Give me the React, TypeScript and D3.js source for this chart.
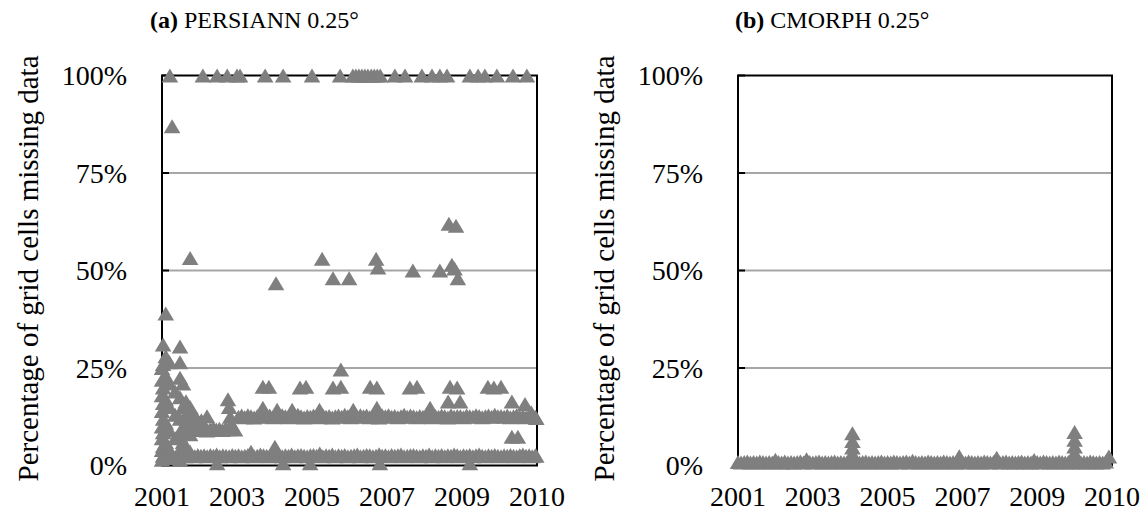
import React from "react";
import * as d3 from "d3";

const WIDTH = 1148;
const HEIGHT = 513;

// Axis definitions
const xTickValues = [2001, 2003, 2005, 2007, 2009, 2011];
const xTickLabels = ["2001", "2003", "2005", "2007", "2009", "2010"];
const yTickValues = [0, 25, 50, 75, 100];
const yTickLabels = ["0%", "25%", "50%", "75%", "100%"];
const yAxisTitle = "Percentage of grid cells missing data";

// ---------- PERSIANN 0.25° ----------
// Monthly typical values of the low band (first month 2001-01)
const persiannLowStart = 2001.04;
const persiannLow = [
  2.6, 2.4, 2.7, 2.5, 2.3, 2.6, 2.8, 2.4, 2.5, 2.6, 2.4, 2.7,
  2.5, 2.6, 2.4, 2.7, 2.5, 2.8, 2.4, 2.6, 2.5, 2.4, 2.7, 2.5,
  2.6, 2.4, 2.5, 2.7, 3.5, 2.4, 2.5, 2.8, 2.6, 2.5, 2.4, 2.6,
  2.5, 2.7, 2.4, 2.6, 2.5, 2.8, 2.4, 2.6, 2.7, 2.5, 2.4, 2.6,
  2.7, 2.5, 3.1, 2.4, 2.6, 2.5, 2.8, 2.4, 2.6, 2.5, 2.7, 2.4,
  2.5, 2.6, 2.8, 2.4, 2.5, 2.7, 2.6, 2.4, 2.5, 2.9, 2.5, 2.6,
  2.4, 2.7, 2.5, 2.6, 2.8, 2.4, 2.5, 2.6, 2.7, 2.5, 2.4, 2.6,
  2.5, 2.8, 2.4, 2.6, 2.5, 2.7, 2.4, 2.6, 2.5, 2.8, 2.6, 2.4,
  2.6, 2.5, 2.7, 2.4, 2.6, 2.8, 2.5, 2.4, 2.6, 2.5, 2.7, 2.5,
  2.4, 2.6, 2.5, 2.7, 2.5, 2.4, 2.6, 2.8, 2.5, 2.6, 2.4, 2.6,
];

// Monthly values of the 2001-2003 band
const persiannMidStart = 2001.78;
const persiannMid = [
  9.4, 9.1, 9.6, 9.2, 9.5, 9.0, 9.3, 9.7, 9.2, 9.4, 9.1, 9.5, 9.3, 9.6, 9.2,
];

// Monthly values of the upper band from 2003 on
const persiannHighStart = 2003.04;
const persiannHigh = [
  12.5, 12.8, 12.4, 12.9, 12.6, 12.3, 12.7, 13.0, 12.5, 12.6, 12.8, 12.4,
  12.7, 12.5, 12.9, 12.6, 12.4, 12.8, 12.5, 13.0, 12.6, 12.3, 12.7, 12.5,
  12.8, 12.6, 12.4, 12.9, 12.5, 12.7, 12.3, 12.6, 12.8, 12.5, 13.0, 12.6,
  12.4, 12.7, 12.5, 12.9, 12.6, 12.8, 12.4, 12.7, 12.5, 12.3, 12.8, 12.6,
  12.9, 12.5, 12.7, 12.4, 12.6, 13.0, 12.5, 12.8, 12.6, 12.4, 12.7, 12.5,
  12.6, 12.9, 12.4, 12.7, 12.5, 12.8, 12.6, 12.3, 12.9, 12.5, 12.7, 12.6,
  12.4, 12.8, 12.6, 12.5, 12.9, 12.7, 12.4, 12.6, 12.8, 12.5, 13.0, 12.6,
  12.7, 12.5, 12.8, 12.4, 12.6, 12.9, 12.5, 12.7, 12.4, 12.8, 12.6, 12.5,
];

// Days with the whole domain missing
const persiannFullDays = [
  2001.21, 2002.09, 2002.47, 2002.74, 2003.0, 2003.08, 2003.75, 2004.23,
  2005.0, 2005.75, 2006.09, 2006.17, 2006.25, 2006.33, 2006.41, 2006.49,
  2006.58, 2006.66, 2006.74, 2006.82, 2007.21, 2007.48, 2007.93, 2008.2,
  2008.41, 2008.6, 2009.21, 2009.43, 2009.61, 2009.93, 2010.36, 2010.73,
];

// Days with almost nothing missing
const persiannNearZeroDays = [2002.47, 2004.23, 2004.95, 2006.81, 2009.21];
const persiannNearZeroValue = 0.6;

// Individual days: [year, percent missing]
const persiannEarly: [number, number][] = [
  [2001.0, 25], [2001.0, 22], [2001.0, 18], [2001.0, 14], [2001.0, 10], [2001.0, 7], [2001.0, 4], [2001.0, 1.5],
  [2001.03, 31], [2001.03, 26], [2001.03, 20], [2001.03, 16], [2001.03, 12], [2001.03, 8.5], [2001.03, 5], [2001.03, 2.5],
  [2001.1, 39], [2001.1, 28], [2001.1, 23], [2001.1, 17], [2001.1, 11], [2001.1, 6], [2001.1, 3],
  [2001.2, 26.5], [2001.2, 21], [2001.2, 15], [2001.2, 9], [2001.2, 4],
  [2001.27, 87],
  [2001.35, 19], [2001.35, 13], [2001.35, 7], [2001.35, 2],
  [2001.48, 30.5], [2001.48, 26.5], [2001.48, 22.5], [2001.48, 17.5], [2001.48, 12], [2001.48, 8], [2001.48, 4], [2001.48, 1.5],
  [2001.56, 21], [2001.56, 15], [2001.56, 10], [2001.56, 6], [2001.56, 2.5],
  [2001.64, 16.5], [2001.64, 13], [2001.64, 9.5], [2001.64, 5],
  [2001.75, 53.2], [2001.75, 15], [2001.75, 11.5], [2001.75, 8], [2001.75, 3.5],
  [2001.83, 13.5], [2001.83, 10],
  [2001.93, 12], [2001.93, 9.5],
  [2002.05, 11.6], [2002.2, 12.6],
  [2002.76, 17], [2002.79, 15], [2002.82, 12.5], [2002.85, 10.5],
];

const persiannMidLevel: [number, number][] = [
  [2004.04, 46.7], [2005.27, 53], [2005.56, 48], [2005.99, 48],
  [2006.71, 53], [2006.76, 50.8], [2007.69, 50], [2008.41, 50],
  [2008.65, 62], [2008.84, 61.5], [2008.73, 51.5], [2008.8, 50.5], [2008.89, 48],
];

const persiannTwenty: [number, number][] = [
  [2003.69, 20.2], [2003.85, 20.2], [2004.68, 20], [2004.84, 20.2],
  [2005.56, 20], [2005.77, 20.2], [2005.77, 24.6], [2006.55, 20.2], [2006.73, 20],
  [2007.61, 20], [2007.8, 20.2], [2008.68, 20.2], [2008.87, 20],
  [2009.69, 20.2], [2009.85, 20], [2010.04, 20.2],
];

const persiannBumps: [number, number][] = [
  [2003.69, 14.8], [2004.07, 14.3], [2004.47, 14.3], [2005.2, 14.3], [2006.1, 14.3],
  [2006.73, 14.8], [2008.15, 14.8], [2008.63, 16.4], [2008.95, 16.4],
  [2010.33, 16.4], [2010.68, 15.8], [2010.85, 13.6], [2010.98, 12.2],
  [2010.33, 7.4], [2010.49, 7.4],
  [2004.01, 4.8], [2010.98, 2.5],
];

// ---------- CMORPH 0.25° ----------
const cmorphLowStart = 2001.0;
const cmorphLow = [
  0.9, 0.8, 0.9, 1.0, 0.8, 0.9, 0.8, 1.0, 0.9, 0.8, 0.9, 0.8,
  1.5, 0.9, 0.8, 1.0, 0.8, 0.9, 0.8, 0.9, 1.0, 0.8, 1.6, 0.9,
  0.8, 0.9, 1.0, 0.8, 0.9, 0.8, 0.9, 1.0, 0.8, 0.9, 0.8, 0.9,
  1.0, 0.8, 0.9, 0.8, 0.9, 1.0, 0.8, 0.9, 0.8, 0.9, 1.0, 0.8,
  0.9, 0.8, 1.0, 0.9, 0.8, 0.9, 1.0, 0.8, 1.2, 0.9, 0.8, 0.9,
  0.8, 1.0, 0.9, 0.8, 0.9, 0.8, 1.0, 0.9, 0.8, 0.9, 0.8, 2.4,
  0.9, 0.8, 1.0, 0.9, 0.8, 0.9, 0.8, 1.0, 0.9, 0.8, 0.9, 2.0,
  0.8, 0.9, 1.0, 0.8, 0.9, 0.8, 0.9, 1.0, 0.8, 0.9, 0.8, 1.4,
  0.9, 0.8, 1.0, 0.9, 0.8, 0.9, 0.8, 1.0, 0.9, 0.8, 0.9, 0.8,
  1.0, 0.9, 0.8, 0.9, 0.8, 1.0, 0.9, 0.8, 0.9, 0.8, 1.0, 2.3,
];

const cmorphSpikes: [number, number][] = [
  [2004.06, 8.3], [2004.06, 6.3], [2004.06, 4.6], [2004.06, 3.0],
  [2010.0, 8.6], [2010.0, 6.6], [2010.0, 4.9], [2010.0, 3.2],
];

type Pt = [number, number];

function monthly(start: number, values: number[]): Pt[] {
  return values.map((v, i) => [start + i / 12, v] as Pt);
}

const persiannPoints: Pt[] = [
  ...monthly(persiannLowStart, persiannLow),
  ...monthly(persiannMidStart, persiannMid),
  ...monthly(persiannHighStart, persiannHigh),
  ...persiannNearZeroDays.map((d) => [d, persiannNearZeroValue] as Pt),
  ...persiannEarly,
  ...persiannBumps,
  ...persiannTwenty,
  ...persiannMidLevel,
  ...persiannFullDays.map((d) => [d, 100] as Pt),
];

const cmorphPoints: Pt[] = [...monthly(cmorphLowStart, cmorphLow), ...cmorphSpikes];

const FONT = "'Liberation Serif', 'Times New Roman', serif";
const MARKER = "#7f7f7f";
const GRID = "#a6a6a6";

// Triangle marker centred on its bounding box
const triangle = d3.path();
triangle.moveTo(0, -7);
triangle.lineTo(8.3, 7);
triangle.lineTo(-8.3, 7);
triangle.closePath();
const trianglePath = triangle.toString();

interface PanelProps {
  left: number;
  right: number;
  tag: string;
  name: string;
  titleX: number;
  points: Pt[];
}

const TOP = 75.5;
const BOTTOM = 465.5;

function Panel({ left, right, tag, name, titleX, points }: PanelProps) {
  const x = d3.scaleLinear().domain([2001, 2011]).range([left, right]);
  const y = d3.scaleLinear().domain([0, 100]).range([BOTTOM, TOP]);
  return (
    <g>
      <text x={titleX} y={28} fontFamily={FONT} fontSize={24} fill="#000">
        <tspan fontWeight="bold">{tag}</tspan>
        <tspan> {name}</tspan>
      </text>
      <text
        transform={`translate(${left - 134},${(TOP + BOTTOM) / 2 - 2}) rotate(-90)`}
        textAnchor="middle"
        dominantBaseline="central"
        fontFamily={FONT}
        fontSize={29}
        fill="#000"
      >
        {yAxisTitle}
      </text>
      {yTickValues.map((v, i) => (
        <g key={v}>
          {v > 0 && v < 100 && (
            <line x1={left} x2={right} y1={y(v)} y2={y(v)} stroke={GRID} strokeWidth={2} />
          )}
          <line x1={left} x2={left + 7} y1={y(v)} y2={y(v)} stroke="#000" strokeWidth={2} />
          <text
            x={left - 35}
            y={y(v)}
            textAnchor="end"
            dominantBaseline="central"
            fontFamily={FONT}
            fontSize={28}
            fill="#000"
          >
            {yTickLabels[i]}
          </text>
        </g>
      ))}
      <rect
        x={left}
        y={TOP}
        width={right - left}
        height={BOTTOM - TOP}
        fill="none"
        stroke="#000"
        strokeWidth={2}
      />
      {xTickValues.map((v, i) => (
        <text
          key={v}
          x={x(v)}
          y={506}
          textAnchor="middle"
          fontFamily={FONT}
          fontSize={28}
          fill="#000"
        >
          {xTickLabels[i]}
        </text>
      ))}
      <g fill={MARKER}>
        {points.map(([d, v], i) => (
          <path key={i} d={trianglePath} transform={`translate(${x(d)},${y(v)})`} />
        ))}
      </g>
    </g>
  );
}

export default function App() {
  return (
    <svg
      width={WIDTH}
      height={HEIGHT}
      viewBox={`0 0 ${WIDTH} ${HEIGHT}`}
      style={{ position: "absolute", left: 0, top: 0, background: "#fff" }}
    >
      <rect width={WIDTH} height={HEIGHT} fill="#fff" />
      <Panel
        left={162}
        right={537}
        tag="(a)"
        name="PERSIANN 0.25°"
        titleX={150}
        points={persiannPoints}
      />
      <Panel
        left={738}
        right={1112}
        tag="(b)"
        name="CMORPH 0.25°"
        titleX={735}
        points={cmorphPoints}
      />
    </svg>
  );
}
